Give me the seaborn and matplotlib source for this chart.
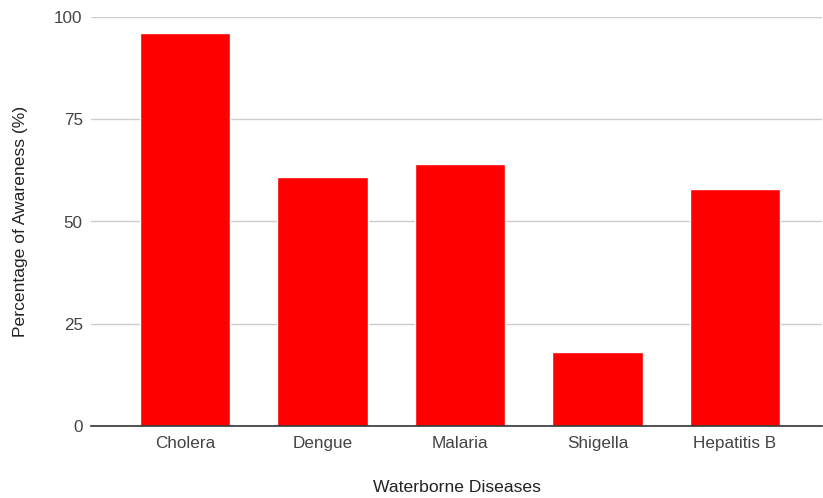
import matplotlib
matplotlib.use("Agg")
import matplotlib.pyplot as plt
import seaborn as sns
import pandas as pd

diseases = ["Cholera", "Dengue", "Malaria", "Shigella", "Hepatitis B"]
awareness = [96, 61, 64, 18, 58]
y_ticks = [0, 25, 50, 75, 100]

sns.set_theme(style="white")
plt.rcParams["font.family"] = ["Liberation Sans", "DejaVu Sans"]

df = pd.DataFrame({"Disease": diseases, "Awareness": awareness})

fig = plt.figure(figsize=(8.23, 4.98), dpi=100)
ax = fig.add_axes([91 / 823, 72 / 498, 731 / 823, 409 / 498])

sns.barplot(data=df, x="Disease", y="Awareness", color="#ff0000",
            saturation=1, width=0.655, ax=ax, zorder=3)

ax.set_xlim(-0.684, 4.633)
ax.set_ylim(0, 100)
ax.set_yticks(y_ticks)
ax.grid(axis="y", color="#cccccc", linewidth=1, zorder=0)
for s in ["top", "right", "left"]:
    ax.spines[s].set_visible(False)
ax.spines["bottom"].set_color("#333333")
ax.spines["bottom"].set_linewidth(1.2)
ax.spines["bottom"].set_zorder(4)

ax.tick_params(axis="both", length=0, labelsize=12.3, labelcolor="#444444")
ax.tick_params(axis="x", pad=7)
ax.tick_params(axis="y", pad=6)

ax.set_xlabel("Waterborne Diseases", fontsize=12.6, color="#222222", labelpad=21)
ax.set_ylabel("Percentage of Awareness (%)", fontsize=12.6, color="#222222", labelpad=19)

fig.savefig("out.png", dpi=100)
